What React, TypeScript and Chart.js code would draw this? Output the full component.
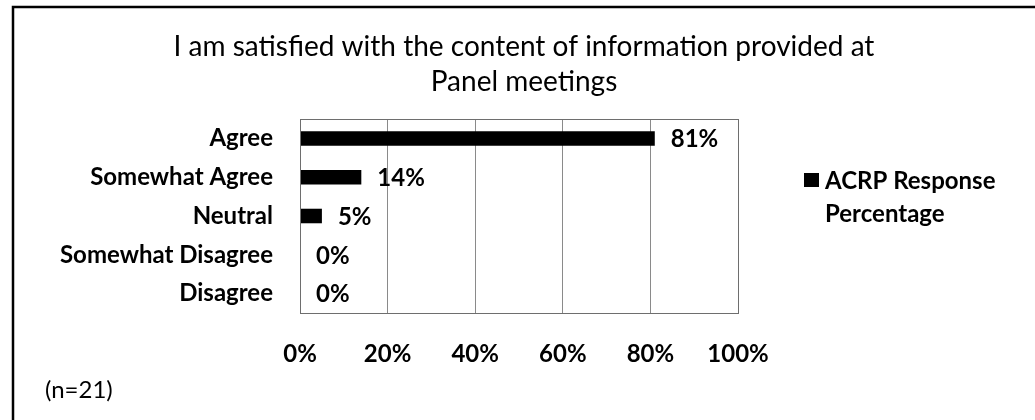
import React, { useEffect, useRef } from 'react';
import { Chart, registerables } from 'chart.js';

Chart.register(...registerables);

const categories = ['Agree', 'Somewhat Agree', 'Neutral', 'Somewhat Disagree', 'Disagree'];
const responsePct = [81, 14, 5, 0, 0];
const xTickValues = [0, 20, 40, 60, 80, 100];
const titleLines = ['I am satisfied with the content of information provided at', 'Panel meetings'];
const seriesName = 'ACRP Response Percentage';
const legendLines = ['ACRP Response', 'Percentage'];
const sampleNote = '(n=21)';

const FONT = 'Lato, "Open Sans", "DejaVu Sans", sans-serif';

const decorPlugin = {
  id: 'decor',
  beforeDraw(chart: any) {
    const ctx = chart.ctx;
    ctx.save();
    ctx.fillStyle = '#ffffff';
    ctx.fillRect(0, 0, chart.width, chart.height);
    ctx.restore();
  },
  afterDatasetsDraw(chart: any) {
    const ctx = chart.ctx;
    const meta = chart.getDatasetMeta(0);
    ctx.save();
    ctx.font = `bold 24px ${FONT}`;
    ctx.fillStyle = '#000';
    ctx.textAlign = 'left';
    ctx.textBaseline = 'middle';
    meta.data.forEach((el: any, i: number) => {
      ctx.fillText(responsePct[i] + '%', el.x + 16, el.y + 1);
    });
    ctx.restore();
  },
  afterDraw(chart: any) {
    const ctx = chart.ctx;
    const a = chart.chartArea;
    ctx.save();
    // plot box
    ctx.strokeStyle = '#6e6e6e';
    ctx.lineWidth = 1;
    ctx.strokeRect(Math.round(a.left) + 0.5, Math.round(a.top) + 0.5, Math.round(a.right - a.left), Math.round(a.bottom - a.top));
    // outer frame
    ctx.strokeStyle = '#000';
    ctx.lineWidth = 2.5;
    ctx.strokeRect(13, 7, 1200, 600);
    // title
    ctx.fillStyle = '#000';
    ctx.font = `28px ${FONT}`;
    ctx.textAlign = 'center';
    ctx.textBaseline = 'alphabetic';
    ctx.fillText(titleLines[0], 524, 56);
    ctx.fillText(titleLines[1], 524, 91);
    // legend
    ctx.fillRect(804, 173, 15, 14);
    ctx.font = `bold 24px ${FONT}`;
    ctx.textAlign = 'left';
    ctx.textBaseline = 'middle';
    ctx.fillText(legendLines[0], 825, 181);
    ctx.fillText(legendLines[1], 825, 214);
    // note
    ctx.font = `24px ${FONT}`;
    ctx.fillText(sampleNote, 45, 390);
    ctx.restore();
  },
};

export default function App() {
  const ref = useRef<HTMLCanvasElement | null>(null);
  useEffect(() => {
    if (!ref.current) return;
    const chart = new Chart(ref.current, {
      type: 'bar',
      data: {
        labels: categories,
        datasets: [
          {
            label: seriesName,
            data: responsePct,
            backgroundColor: '#000000',
            borderWidth: 0,
            barPercentage: 0.375,
            categoryPercentage: 1,
          },
        ],
      },
      options: {
        indexAxis: 'y',
        responsive: false,
        animation: false,
        devicePixelRatio: 1,
        layout: { padding: { top: 119, right: 297, left: 0, bottom: 0 } },
        plugins: {
          legend: { display: false },
          title: { display: false },
          tooltip: { enabled: false },
        },
        scales: {
          x: {
            min: 0,
            max: 100,
            afterBuildTicks: (s: any) => {
              s.ticks = xTickValues.map((v) => ({ value: v }));
            },
            ticks: {
              callback: (v: any) => v + '%',
              font: { family: FONT, size: 24, weight: 'bold' },
              color: '#000',
              padding: 27,
              maxRotation: 0,
              autoSkip: false,
            },
            grid: { color: '#8a8a8a', drawTicks: false, lineWidth: 1 },
            border: { color: '#6e6e6e' },
            afterFit: (s: any) => {
              s.height = 107;
            },
          },
          y: {
            ticks: {
              font: { family: FONT, size: 24, weight: 'bold' },
              color: '#000',
              padding: 27,
              autoSkip: false,
            },
            grid: { display: false, drawTicks: false },
            border: { color: '#6e6e6e' },
            afterFit: (s: any) => {
              s.width = 300;
            },
          },
        },
      },
      plugins: [decorPlugin],
    });
    return () => chart.destroy();
  }, []);
  return (
    <div style={{ position: 'absolute', left: 0, top: 0, width: 1035, height: 420 }}>
      <canvas ref={ref} width={1035} height={420} style={{ display: 'block' }} />
    </div>
  );
}
